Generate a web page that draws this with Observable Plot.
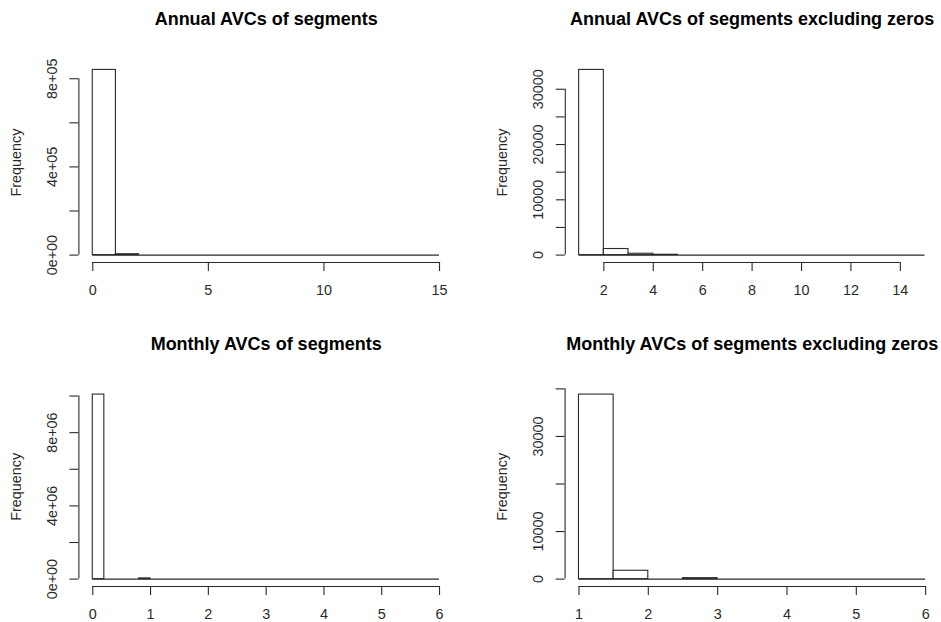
<!DOCTYPE html>
<html>
<head>
<meta charset="utf-8">
<script src="https://cdn.jsdelivr.net/npm/d3@7"></script>
<script src="https://cdn.jsdelivr.net/npm/@observablehq/plot@0.6"></script>
<style>
  html, body { margin: 0; padding: 0; background: #fff; }
  #wrap { position: relative; width: 941px; height: 622px; overflow: hidden; }
  #wrap > svg { position: absolute; }
</style>
</head>
<body>
<div id="wrap"></div>
<script>
// ---- Data ----
const titles = [
  "Annual AVCs of segments",
  "Annual AVCs of segments excluding zeros",
  "Monthly AVCs of segments",
  "Monthly AVCs of segments excluding zeros"
];
const yLabel = "Frequency";

// Panel 1: annual, all segments (breaks 0..15, width 1)
const breaks1 = [0,1,2,3,4,5,6,7,8,9,10,11,12,13,14,15];
const counts1 = [840000, 4000, 0, 0, 0, 0, 0, 0, 0, 0, 0, 0, 0, 0, 0];
const xTicks1 = [0, 5, 10, 15];
const yTicks1 = [0, 200000, 400000, 600000, 800000];
const yTickLabels1 = ["0e+00", "", "4e+05", "", "8e+05"];

// Panel 2: annual, excluding zeros (breaks 1..15, width 1)
const breaks2 = [1,2,3,4,5,6,7,8,9,10,11,12,13,14,15];
const counts2 = [33500, 1100, 250, 60, 0, 0, 0, 0, 0, 0, 0, 0, 0, 0];
const xTicks2 = [2, 4, 6, 8, 10, 12, 14];
const yTicks2 = [0, 5000, 10000, 15000, 20000, 25000, 30000];
const yTickLabels2 = ["0", "", "10000", "", "20000", "", "30000"];

// Panel 3: monthly, all segments (breaks 0..6, width 0.2)
const breaks3 = [0,0.2,0.4,0.6,0.8,1,1.2,1.4,1.6,1.8,2,2.2,2.4,2.6,2.8,3,3.2,3.4,3.6,3.8,4,4.2,4.4,4.6,4.8,5,5.2,5.4,5.6,5.8,6];
const counts3 = [10080000,0,0,0,38800,0,0,0,0,0,0,0,0,0,0,0,0,0,0,0,0,0,0,0,0,0,0,0,0,0];
const xTicks3 = [0, 1, 2, 3, 4, 5, 6];
const yTicks3 = [0, 2000000, 4000000, 6000000, 8000000, 10000000];
const yTickLabels3 = ["0e+00", "", "4e+06", "", "8e+06", ""];

// Panel 4: monthly, excluding zeros (breaks 1..6, width 0.5)
const breaks4 = [1,1.5,2,2.5,3,3.5,4,4.5,5,5.5,6];
const counts4 = [38800, 1760, 0, 200, 0, 0, 0, 0, 0, 0];
const xTicks4 = [1, 2, 3, 4, 5, 6];
const yTicks4 = [0, 10000, 20000, 30000, 40000];
const yTickLabels4 = ["0", "10000", "", "30000", ""];

// ---- Layout ----
const FONT = "'Liberation Sans', Arial, sans-serif";
const INK = "#2a2a2a";

function bins(breaks, counts) {
  return counts.map((c, i) => ({x1: breaks[i], x2: breaks[i + 1], y: c}));
}

function panel({title, breaks, counts, xTicks, yTicks, yTickLabels, left, top, width, height, margin}) {
  const xlo = breaks[0], xhi = breaks[breaks.length - 1];
  const xpad = 0.04 * (xhi - xlo);
  const ymax = d3.max(counts);
  const ypad = 0.04 * ymax;
  const xDom = [xlo - xpad, xhi + xpad];
  const yDom = [-ypad, ymax + ypad];
  const yLab = yTicks.map((t, i) => ({t, s: yTickLabels[i]})).filter(d => d.s !== "");
  const svg = Plot.plot({
    width, height,
    marginLeft: margin.left, marginRight: margin.right,
    marginTop: margin.top, marginBottom: margin.bottom,
    style: {fontFamily: FONT, fontSize: "14.4px", color: INK, background: "white", overflow: "visible"},
    x: {domain: xDom, axis: null},
    y: {domain: yDom, axis: null},
    marks: [
      Plot.ruleY([0], {x1: xlo, x2: xhi, stroke: INK, strokeWidth: 1.1}),
      Plot.rectY(bins(breaks, counts).filter(d => d.y > 0), {x1: "x1", x2: "x2", y1: 0, y2: "y", fill: "white", stroke: INK, strokeWidth: 1.1}),
      // x axis
      Plot.ruleY([yDom[0]], {x1: xTicks[0], x2: xTicks[xTicks.length - 1], stroke: INK, strokeWidth: 1.1}),
      Plot.axisX({ticks: xTicks, tickFormat: d => String(d), tickSize: 9, tickPadding: 13, anchor: "bottom", label: null, fontSize: 14.4, fill: INK, stroke: INK, strokeWidth: 1.1}),
      // y axis
      Plot.ruleX([xDom[0]], {y1: yTicks[0], y2: yTicks[yTicks.length - 1], stroke: INK, strokeWidth: 1.1}),
      Plot.axisY({ticks: yTicks, tickFormat: () => "", tickSize: 9, anchor: "left", label: null, stroke: INK, strokeWidth: 1.1}),
      Plot.text(yLab, {x: xDom[0], y: "t", text: "s", rotate: -90, dx: -22, lineAnchor: "bottom", textAnchor: "middle", fontSize: 14.4, fill: INK}),
      // axis title
      Plot.text([yLabel], {frameAnchor: "left", text: d => d, rotate: -90, dx: -58.4, lineAnchor: "bottom", textAnchor: "middle", fontSize: 14.4, fill: INK}),
      // main title
      Plot.text([title], {frameAnchor: "top", text: d => d, dy: -37.5, lineAnchor: "bottom", textAnchor: "middle", fontSize: 18, fontWeight: "bold", fill: "#000"})
    ]
  });
  svg.style.left = left + "px";
  svg.style.top = top + "px";
  document.getElementById("wrap").appendChild(svg);
}

panel({title: titles[0], breaks: breaks1, counts: counts1, xTicks: xTicks1, yTicks: yTicks1, yTickLabels: yTickLabels1,
  left: 0, top: 0, width: 470, height: 311, margin: {left: 78.4, right: 17.1, top: 62, bottom: 49}});
panel({title: titles[1], breaks: breaks2, counts: counts2, xTicks: xTicks2, yTicks: yTicks2, yTickLabels: yTickLabels2,
  left: 470, top: 0, width: 471, height: 311, margin: {left: 94.8, right: 2.6, top: 62, bottom: 49}});
panel({title: titles[2], breaks: breaks3, counts: counts3, xTicks: xTicks3, yTicks: yTicks3, yTickLabels: yTickLabels3,
  left: 0, top: 311, width: 470, height: 311, margin: {left: 78.4, right: 17.1, top: 75.7, bottom: 36}});
panel({title: titles[3], breaks: breaks4, counts: counts4, xTicks: xTicks4, yTicks: yTicks4, yTickLabels: yTickLabels4,
  left: 470, top: 311, width: 471, height: 311, margin: {left: 94.6, right: 2, top: 75.7, bottom: 36}});
</script>
</body>
</html>
